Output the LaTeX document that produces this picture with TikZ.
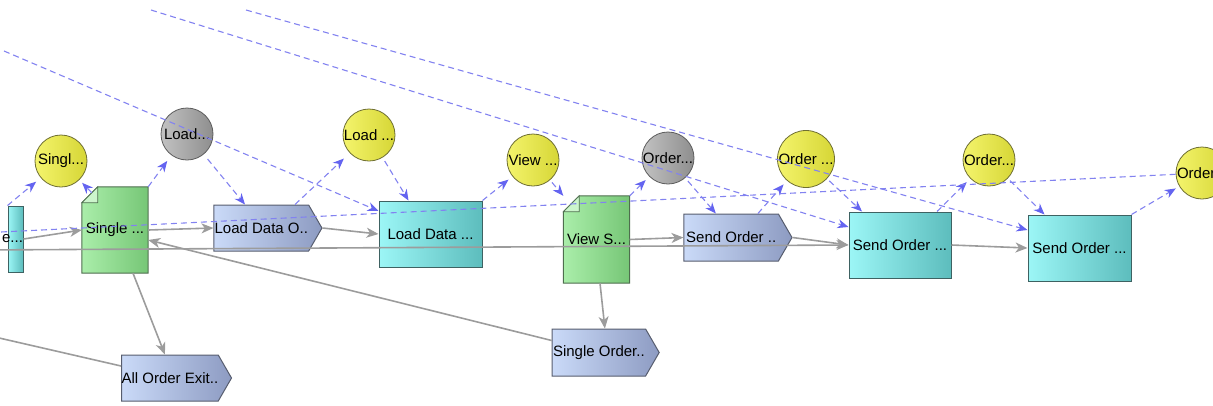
\documentclass[tikz,border=0pt]{standalone}
\usepackage{fontspec}
\setmainfont{Liberation Sans}
\usetikzlibrary{arrows.meta,shapes.symbols,backgrounds}
\definecolor{ylight}{HTML}{F4F46C}
\definecolor{ydeep}{HTML}{D6D636}
\definecolor{yline}{HTML}{6E6E32}
\definecolor{glight}{HTML}{C2C2C2}
\definecolor{gdeep}{HTML}{8E8E8E}
\definecolor{gline}{HTML}{5C5C5C}
\definecolor{tlight}{HTML}{9CF6F6}
\definecolor{tdeep}{HTML}{5DBDBD}
\definecolor{tline}{HTML}{3E6262}
\definecolor{plight}{HTML}{CADAF8}
\definecolor{pdeep}{HTML}{8D9BC2}
\definecolor{pline}{HTML}{575D6E}
\definecolor{dlight}{HTML}{AAEEAA}
\definecolor{ddeep}{HTML}{76C676}
\definecolor{dline}{HTML}{4E6E4E}
\definecolor{flowgray}{HTML}{9C9C9C}
\definecolor{linkblue}{HTML}{8282F0}
\definecolor{headblue}{HTML}{6464F0}
\tikzset{
  lbl/.style={font=\fontsize{15}{17}\selectfont},
  state/.style={circle,draw=yline,line width=0.8pt,left color=ylight,right color=ydeep,minimum size=52pt,inner sep=0pt,lbl},
  gstate/.style={state,draw=gline,left color=glight,right color=gdeep},
  task/.style={rectangle,draw=tline,line width=1pt,left color=tlight,right color=tdeep,inner sep=0pt,minimum width=102pt,minimum height=66pt,lbl},
  exitp/.style={signal,signal to=east,signal pointer angle=120,draw=pline,line width=1pt,left color=plight,right color=pdeep,inner sep=0pt,minimum width=107pt,minimum height=46pt,lbl},
  docnode/.style={rectangle,inner sep=0pt,minimum width=66pt,minimum height=86pt,lbl},
  docfill/.style={draw=dline,line width=1pt,left color=dlight,right color=ddeep},
  flow/.style={draw=flowgray,line width=1.6pt,-{Stealth[length=12pt,width=10pt,inset=3.5pt]}},
  link/.style={draw=linkblue,line width=1.1pt,dash pattern=on 6pt off 4pt,-{Stealth[length=11pt,width=9pt,inset=3.5pt,color=headblue]}}
}
\begin{document}
\begin{tikzpicture}[x=1pt,y=-1pt]
  \useasboundingbox (0,0) rectangle (1213,405);
  % free ends
  \coordinate (lft) at (-20,250);
  \coordinate (aoeend) at (-40,329);
  \coordinate (tl1) at (151,10);
  \coordinate (tl2) at (246,10);
  \coordinate (tl3) at (4,51);
  \coordinate (cend) at (-40,234);
  % tasks and exits
  \node[task,minimum width=15pt] (sel) at (15.5,239) {\makebox[15pt][r]{e...}};
  \node[task,minimum width=103pt] (ldt) at (430.5,234) {Load Data ...};
  \node[task] (st1) at (900,245) {Send Order ...};
  \node[task,minimum width=103pt] (st2) at (1079.5,248) {Send Order ...};
  \node[exitp,minimum width=108pt] (ldo) at (261.3,228) {Load Data O..};
  \node[exitp,minimum width=108pt,minimum height=47pt] (so) at (731.2,237.5) {Send Order ..};
  \node[exitp,minimum height=47pt] (sop) at (598.9,352.5) {Single Order..};
  \node[exitp] (aoe) at (169.9,378) {All Order Exit..};
  % documents
  \node[docnode] (sd) at (115,230) {Single ...};
  \node[docnode,minimum height=87pt] (vs) at (596.5,239.5) {View S...};
  \begin{scope}[on background layer]
    \foreach \d in {sd,vs}{
      \shade[docfill] (\d.south west) -- ([yshift=-16pt]\d.north west) -- ([xshift=16pt]\d.north west)
        -- (\d.north east) -- (\d.south east) -- cycle;
      \draw[dline,line width=0.8pt,fill=dlight!60!white] ([yshift=-16pt]\d.north west) -- ++(16pt,0) -- ++(0,16pt) -- cycle;
    }
  \end{scope}
  % states
  \node[state] (c1) at (61,161) {Singl...};
  \node[gstate] (c2) at (187,134) {Load...};
  \node[state] (c3) at (369,135) {Load ...};
  \node[state] (c4) at (533,160) {View ...};
  \node[gstate] (c5) at (668,158) {Order...};
  \node[state,minimum size=57pt] (c6) at (806,159) {Order ...};
  \node[state] (c7) at (989,160) {Order...};
  \node[state] (c8) at (1202,173) {Order...};
  % control flow
  \draw[flow] (sel.east) -- (sd.west);
  \draw[flow] (lft) -- (st1.west);
  \draw[flow] (sd.east) -- (ldo.west);
  \draw[flow] (ldo.east) -- (ldt.west);
  \draw[flow] (vs.east) -- (so.west);
  \draw[flow] (so.east) -- (st1.west);
  \draw[flow] (st1.east) -- (st2.west);
  \draw[flow] ([yshift=12pt]sop.west) -- ([yshift=-10pt]sd.east);
  \draw[flow] ([xshift=18pt]sd.south) -- ([xshift=-5pt]aoe.north);
  \draw[flow] ([yshift=12pt]aoe.west) -- (aoeend);
  \draw[flow] ([xshift=3.5pt]vs.south) -- ([xshift=6pt]sop.north);
  % data links
  \draw[link,shorten >=6pt] (sel.north west) -- (c1);
  \draw[link,shorten >=4pt] ([xshift=10pt,yshift=-6pt]sd.north west) -- (c1);
  \draw[link,shorten >=7pt] (sd.north east) -- (c2);
  \draw[link,shorten <=6pt] (c2) -- ([xshift=-16.3pt]ldo.north);
  \draw[link,shorten >=8pt] ([xshift=33.7pt]ldo.north) -- (c3);
  \draw[link,shorten <=4pt] (c3) -- ([xshift=-22pt]ldt.north);
  \draw[link] (tl3) -- ([yshift=23pt]ldt.west);
  \draw[link,shorten >=5pt] (ldt.north east) -- (c4);
  \draw[link,shorten <=3pt] (c4) -- (vs.north west);
  \draw[link,shorten >=5pt] (vs.north east) -- (c5);
  \draw[link,shorten <=4pt] (c5) -- ([xshift=-15.3pt]so.north);
  \draw[link,shorten >=5pt] ([xshift=26.7pt]so.north) -- (c6);
  \draw[link,shorten <=3pt] (c6) -- ([xshift=-38pt]st1.north);
  \draw[link,shorten >=5pt] ([xshift=37pt]st1.north) -- (c7);
  \draw[link,shorten <=3pt] (c7) -- ([xshift=-35pt]st2.north);
  \draw[link,shorten >=4pt] (st2.north east) -- (c8);
  \draw[link] (tl1) -- ([yshift=18pt]st1.west);
  \draw[link] (tl2) -- ([yshift=18pt]st2.west);
  \draw[link] (c8) -- (cend);
\end{tikzpicture}
\end{document}
